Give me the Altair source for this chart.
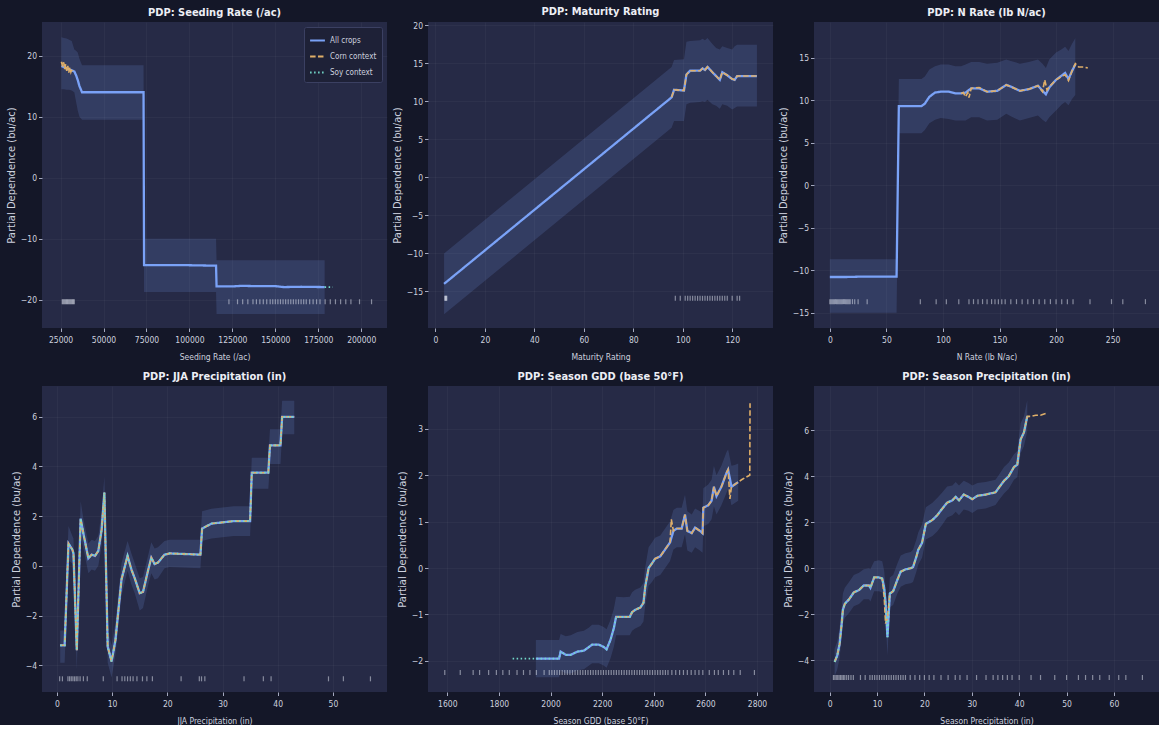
import altair as alt
import pandas as pd

# ---------------------------------------------------------------- palette
BG = "#141728"
PANEL = "#262a46"
BLUE = "#7aa2f7"
ORANGE = "#e0af68"
TEAL = "#73daca"
TEXT = "#cdd1df"
TITLE = "#eceef5"
FONT = "DejaVu Sans Condensed, Liberation Sans, DejaVu Sans"

SERIES = ["All crops", "Corn context", "Soy context"]
SERIES_COLORS = [BLUE, ORANGE, TEAL]
SERIES_DASHES = [[1, 0], [5.5, 2.4], [1.5, 2.5]]

Y_TITLE = "Partial Dependence (bu/ac)"

# ---------------------------------------------------------------- Seeding rate
SEED_X = [25500, 27000, 28500, 30000, 31500, 33000, 34000, 35000, 36000, 37500,
          55000, 73300, 73600, 95000, 115500, 115800, 125000, 130000, 140000,
          150000, 155000, 165000, 178700]
SEED_PD = [18.3, 18.1, 17.9, 17.7, 17.6, 17.4, 16.8, 16.0, 15.0, 14.0,
           14.0, 14.0, -14.3, -14.3, -14.4, -17.8, -17.8, -17.7, -17.75,
           -17.75, -17.9, -17.85, -17.9]
SEED_HI = [23.0, 22.9, 22.8, 22.6, 22.4, 21.0, 20.8, 20.5, 19.5, 18.4,
           18.4, 18.4, -10.0, -10.0, -10.0, -13.5, -13.5, -13.5, -13.5,
           -13.5, -13.5, -13.5, -13.5]
SEED_LO = [14.5, 14.5, 14.4, 14.4, 14.3, 14.0, 12.5, 11.0, 10.0, 9.5,
           9.5, 9.5, -18.7, -18.7, -18.7, -22.3, -22.3, -22.3, -22.3,
           -22.3, -22.3, -22.3, -22.3]
SEED_CORN_X = [25500, 26200, 26800, 27400, 28000, 28600, 29200, 29800, 30400,
               31000, 31600, 32300]
SEED_CORN_Y = [19.0, 18.2, 18.9, 17.8, 18.6, 17.5, 18.3, 17.2, 18.1, 17.3,
               17.8, 17.5]
SEED_SOY_X = [178700, 181000, 183500]
SEED_SOY_Y = [-17.9, -17.9, -17.9]
SEED_RUG = [26000, 26500, 27000, 27500, 28000, 28500, 29000, 29500, 30000,
            30500, 31000, 31500, 32000, 32500, 33000, 123000, 128000, 131000,
            134000, 137000, 139000, 141000, 143000, 145000, 147000, 148500,
            150000, 151500, 153000, 154500, 156000, 157500, 159000, 160500,
            162000, 163500, 165000, 166500, 168000, 170000, 172000, 174000,
            176000, 179000, 182000, 185000, 188000, 191000, 194000, 199000,
            206000]

# ---------------------------------------------------------------- Maturity rating
MAT_X = [3.5, 95.5, 96.5, 100.5, 101.5, 103, 107, 108, 109, 110, 112, 113.5,
         115, 116, 118, 120, 121, 122, 130]
MAT_PD = [-14.0, 10.5, 11.5, 11.4, 13.5, 14.0, 14.0, 14.3, 14.1, 14.5, 13.8,
          13.3, 12.8, 13.8, 13.4, 12.9, 12.8, 13.3, 13.3]
MAT_HI = [-10.0, 14.5, 15.4, 15.5, 17.8, 17.9, 18.0, 18.2, 18.0, 18.3, 17.5,
          17.0, 16.8, 17.2, 17.0, 16.8, 17.2, 17.4, 17.4]
MAT_LO = [-18.0, 6.5, 7.4, 7.4, 9.6, 9.8, 9.9, 10.0, 9.9, 10.2, 9.6, 9.4,
          9.0, 9.6, 9.4, 8.9, 9.1, 9.3, 9.3]
MAT_CORN_X = [95.5, 96.5, 100.5, 101.5, 103, 107, 108, 109, 110, 112, 113.5,
              115, 116, 118, 120, 121, 122, 130]
MAT_CORN_Y = [10.5, 11.5, 11.4, 13.5, 14.0, 14.0, 14.3, 14.1, 14.5, 13.8,
              13.3, 12.8, 13.8, 13.4, 12.9, 12.8, 13.3, 13.3]
MAT_SOY_X = []
MAT_SOY_Y = []
MAT_RUG = [3.8, 4.0, 4.2, 4.4, 4.6, 97, 99, 101, 102, 103, 104, 105, 106, 107,
           108, 109, 110, 111, 112, 113, 114, 115, 116, 117, 118, 120, 122,
           123]

# ---------------------------------------------------------------- N rate
NR_X = [0, 15, 30, 59, 61, 81, 84, 88, 93, 98, 105, 111, 116, 120, 125, 132,
        139, 148, 156, 160, 168, 176, 184, 188, 191, 194, 200, 205, 208, 211,
        214, 217]
NR_PD = [-10.8, -10.8, -10.75, -10.75, 9.3, 9.3, 9.6, 10.4, 10.9, 11.0, 11.0,
         10.8, 10.8, 10.9, 11.4, 11.4, 11.0, 11.1, 11.8, 11.6, 11.1, 11.3,
         11.7, 11.1, 10.7, 11.5, 12.4, 12.9, 13.2, 12.5, 13.4, 14.2]
NR_HI = [-8.7, -8.7, -8.7, -8.7, 12.5, 12.5, 12.8, 13.6, 14.0, 14.2, 14.2,
         14.0, 14.0, 14.2, 14.5, 14.5, 14.3, 14.4, 14.8, 14.6, 14.3, 14.5,
         14.8, 14.3, 13.8, 14.8, 15.6, 16.0, 16.3, 15.8, 16.6, 17.3]
NR_LO = [-15.0, -15.0, -15.0, -15.0, 6.1, 6.1, 6.5, 7.3, 7.7, 7.9, 7.8, 7.6,
         7.6, 7.6, 8.0, 8.0, 7.6, 7.7, 8.4, 8.1, 7.6, 7.9, 8.2, 7.7, 7.4, 8.0,
         8.8, 9.5, 9.8, 9.4, 10.1, 10.6]
NR_CORN_X = [116, 118, 120, 122, 123, 125, 132, 139, 148, 156, 160, 168, 176,
             184, 188, 190, 192, 194, 200, 205, 208, 211, 214, 217, 220, 224,
             228]
NR_CORN_Y = [10.8, 10.9, 10.4, 10.9, 10.3, 11.4, 11.5, 11.0, 11.1, 11.8, 11.6,
             11.1, 11.3, 11.7, 11.0, 12.4, 11.2, 11.6, 12.4, 12.8, 13.0, 12.3,
             13.4, 14.3, 13.9, 13.9, 13.8]
NR_SOY_X = []
NR_SOY_Y = []
NR_RUG = [0, 1, 2, 3, 4, 5, 6, 7, 8, 9, 10, 11, 12, 13, 14, 15, 16, 17, 18,
          20, 22, 25, 33, 80, 94, 103, 114, 123, 127, 131, 135, 139, 143, 146,
          149, 152, 155, 160, 165, 170, 175, 180, 185, 190, 195, 200, 205,
          210, 215, 230, 249, 259, 279]

# ---------------------------------------------------------------- JJA precipitation
JJA_X = [0.6, 1.4, 2.1, 2.8, 3.0, 3.6, 4.3, 4.8, 5.7, 6.3, 6.9, 7.5, 8.1, 8.6,
         9.2, 9.9, 10.6, 11.7, 12.8, 13.5, 14.1, 15.0, 15.6, 16.5, 17.1, 17.7,
         18.3, 19.5, 20.4, 26.0, 26.3, 28.0, 30.0, 32.0, 35.0, 35.3, 38.3,
         38.6, 40.5, 40.8, 43.0]
JJA_PD = [-3.2, -3.2, 0.9, 0.65, 0.5, -3.4, 1.9, 1.3, 0.3, 0.45, 0.4, 0.6,
          1.45, 2.95, -3.25, -3.85, -3.0, -0.55, 0.4, -0.15, -0.5, -1.1,
          -1.05, -0.2, 0.33, 0.07, 0.13, 0.45, 0.5, 0.45, 1.5, 1.7, 1.75, 1.8,
          1.8, 3.75, 3.75, 4.85, 4.85, 6.0, 6.0]
JJA_HI = [-2.6, -2.6, 1.6, 1.2, 1.1, -2.6, 2.6, 1.9, 0.9, 1.05, 1.0, 1.2, 2.2,
          3.6, -2.6, -3.2, -2.3, 0.1, 1.0, 0.5, 0.1, -0.5, -0.45, 0.4, 0.95,
          0.7, 0.75, 1.0, 1.05, 1.05, 2.2, 2.3, 2.35, 2.4, 2.4, 4.35, 4.35,
          5.5, 5.5, 6.65, 6.65]
JJA_LO = [-3.9, -3.9, 0.2, 0.1, -0.1, -4.2, 1.2, 0.7, -0.3, -0.15, -0.2, 0.0,
          0.8, 2.3, -3.9, -4.5, -3.6, -1.2, -0.2, -0.75, -1.1, -1.8, -1.7,
          -0.8, -0.3, -0.55, -0.5, -0.1, -0.05, -0.1, 1.0, 1.1, 1.15, 1.2, 1.2,
          3.1, 3.1, 4.1, 4.1, 5.3, 5.3]
JJA_RUG = [0.5, 1.0, 2.0, 2.3, 2.6, 2.9, 3.2, 3.5, 3.8, 4.2, 4.8, 5.5, 8.4,
           10.9, 11.8, 12.3, 12.8, 13.3, 13.8, 14.5, 15.5, 16.3, 17.3, 22.5,
           25.8, 26.2, 26.8, 33.9, 37.4, 38.8, 49.2, 51.9, 56.8]

# ---------------------------------------------------------------- Season GDD
GDD_X = [1943, 2033, 2039, 2059, 2078, 2104, 2129, 2149, 2161, 2187, 2206,
         2217, 2232, 2245, 2254, 2283, 2307, 2316, 2328, 2348, 2360, 2367,
         2380, 2393, 2405, 2425, 2444, 2463, 2476, 2489, 2508, 2521, 2530,
         2547, 2560, 2579, 2589, 2592, 2611, 2624, 2633, 2643, 2662, 2682,
         2688, 2701, 2714, 2727]
GDD_PD = [-1.95, -1.95, -1.8, -1.87, -1.87, -1.8, -1.78, -1.7, -1.65, -1.65,
          -1.7, -1.75, -1.55, -1.3, -1.05, -1.05, -1.05, -0.95, -0.9, -0.85,
          -0.75, -0.4, 0.0, 0.1, 0.2, 0.25, 0.4, 0.55, 0.8, 0.85, 0.85, 1.15,
          0.8, 0.75, 0.87, 0.8, 0.75, 1.3, 1.35, 1.45, 1.75, 1.55, 1.75, 2.05,
          2.12, 1.75, 1.8, 1.85]
GDD_HI = [-1.55, -1.55, -1.42, -1.47, -1.45, -1.38, -1.35, -1.28, -1.22,
          -1.22, -1.27, -1.32, -1.12, -0.88, -0.62, -0.63, -0.62, -0.52,
          -0.47, -0.42, -0.32, 0.02, 0.45, 0.55, 0.65, 0.7, 0.85, 1.0, 1.25,
          1.3, 1.3, 1.58, 1.22, 1.15, 1.28, 1.22, 1.17, 1.72, 1.8, 1.9, 2.2,
          2.0, 2.2, 2.5, 2.55, 2.2, 2.22, 2.25]
GDD_LO = [-2.35, -2.35, -2.2, -2.27, -2.27, -2.2, -2.18, -2.1, -2.05, -2.05,
          -2.1, -2.15, -1.95, -1.7, -1.45, -1.45, -1.45, -1.35, -1.3, -1.25,
          -1.15, -0.8, -0.38, -0.3, -0.2, -0.15, 0.0, 0.15, 0.4, 0.45, 0.45,
          0.72, 0.38, 0.33, 0.45, 0.38, 0.33, 0.9, 0.95, 1.05, 1.33, 1.15,
          1.35, 1.62, 1.7, 1.35, 1.4, 1.45]
GDD_CORN_X = [2254, 2283, 2307, 2316, 2328, 2348, 2360, 2367, 2380, 2393,
              2405, 2425, 2444, 2463, 2468, 2476, 2489, 2508, 2521, 2530,
              2547, 2560, 2579, 2589, 2592, 2611, 2624, 2633, 2643, 2662,
              2682, 2688, 2695, 2701, 2714, 2727, 2740, 2755, 2772, 2773]
GDD_CORN_Y = [-1.05, -1.05, -1.05, -0.95, -0.9, -0.85, -0.75, -0.4, 0.0, 0.1,
              0.2, 0.25, 0.4, 0.55, 1.05, 0.8, 0.85, 0.85, 1.15, 0.8, 0.75,
              0.87, 0.8, 0.75, 1.3, 1.35, 1.45, 1.75, 1.55, 1.75, 2.05, 2.12,
              1.49, 1.75, 1.8, 1.85, 1.9, 1.95, 2.0, 3.55]
GDD_SOY_X = [1853, 1880, 1910, 1943, 2033, 2039, 2059, 2078, 2104, 2129,
             2149, 2161, 2187, 2206, 2217, 2232, 2245, 2254, 2283, 2307, 2316,
             2328, 2348, 2360, 2367, 2380, 2393, 2405]
GDD_SOY_Y = [-1.95, -1.95, -1.95, -1.95, -1.95, -1.8, -1.87, -1.87, -1.8,
             -1.78, -1.7, -1.65, -1.65, -1.7, -1.75, -1.55, -1.3, -1.05,
             -1.05, -1.05, -0.95, -0.9, -0.85, -0.75, -0.4, 0.0, 0.1, 0.2]
GDD_RUG = [1590, 1650, 1700, 1725, 1760, 1790, 1815, 1840, 1870, 1895, 1920,
           1945, 1975, 1995, 2005, 2015, 2025, 2035, 2045, 2055, 2065, 2075,
           2085, 2095, 2105, 2115, 2125, 2135, 2145, 2155, 2165, 2175, 2185,
           2195, 2205, 2215, 2225, 2235, 2245, 2255, 2265, 2275, 2285, 2295,
           2305, 2315, 2325, 2335, 2345, 2355, 2365, 2375, 2385, 2395, 2405,
           2415, 2425, 2435, 2445, 2455, 2470, 2485, 2500, 2515, 2530, 2545,
           2560, 2575, 2590, 2615, 2635, 2650, 2670, 2690, 2710, 2735, 2790]

# ---------------------------------------------------------------- Season precipitation
SP_X = [1.05, 1.6, 2.1, 2.5, 2.8, 3.2, 4.1, 5.1, 6.2, 7.2, 8.3, 8.6, 9.4,
        10.4, 11.1, 11.5, 11.8, 12.2, 12.7, 13.4, 14.3, 15.0, 16.0, 17.1,
        17.6, 18.3, 18.7, 19.5, 20.3, 21.7, 22.7, 23.8, 24.8, 25.9, 26.6,
        27.3, 28.3, 29.3, 30.1, 31.2, 32.9, 35.0, 35.7, 36.8, 37.8, 38.9,
        39.6, 40.3, 41.0, 41.7]
SP_PD = [-4.07, -3.8, -3.3, -2.5, -1.8, -1.55, -1.35, -1.05, -0.95, -0.75,
         -0.75, -0.85, -0.4, -0.4, -0.45, -0.85, -1.5, -3.0, -1.1, -1.0, -0.5,
         -0.15, -0.05, 0.0, 0.05, 0.5, 0.8, 1.1, 1.93, 2.1, 2.3, 2.6, 2.85,
         2.95, 3.1, 2.95, 3.2, 3.1, 3.0, 3.15, 3.2, 3.3, 3.5, 3.8, 4.0, 4.4,
         4.5, 5.6, 5.9, 6.6]
SP_HI = [-3.5, -3.2, -2.6, -1.8, -1.1, -0.85, -0.6, -0.3, -0.2, -0.05, 0.0,
         -0.05, 0.3, 0.35, 0.3, -0.1, -0.8, -2.1, -0.4, -0.3, 0.2, 0.55, 0.65,
         0.7, 0.8, 1.25, 1.55, 1.9, 2.65, 2.85, 3.05, 3.3, 3.55, 3.6, 3.75,
         3.6, 3.8, 3.7, 3.6, 3.7, 3.75, 3.85, 4.05, 4.4, 4.6, 4.95, 5.1, 6.3,
         6.6, 7.3]
SP_LO = [-4.7, -4.4, -3.9, -3.1, -2.4, -2.15, -1.95, -1.65, -1.55, -1.35,
         -1.35, -1.45, -1.0, -1.0, -1.05, -1.45, -2.15, -3.8, -1.7, -1.6,
         -1.1, -0.8, -0.7, -0.65, -0.6, -0.15, 0.15, 0.45, 1.25, 1.4, 1.6,
         1.9, 2.2, 2.3, 2.45, 2.3, 2.55, 2.5, 2.4, 2.55, 2.6, 2.75, 2.95,
         3.25, 3.45, 3.85, 3.95, 5.0, 5.3, 5.95]
SP_CORN_X = SP_X + [42.4, 43.5, 44.5, 46.0]
SP_CORN_Y = [-4.07, -3.8, -3.3, -2.5, -1.8, -1.55, -1.35, -1.05, -0.95, -0.75,
             -0.75, -0.85, -0.4, -0.4, -0.45, -1.2, -2.4, -2.2, -1.1, -1.0,
             -0.5, -0.15, -0.05, 0.0, 0.05, 0.5, 0.8, 1.1, 1.93, 2.1, 2.3, 2.6,
             2.85, 2.95, 3.1, 2.95, 3.2, 3.1, 3.0, 3.15, 3.2, 3.3, 3.5, 3.8,
             4.0, 4.4, 4.5, 5.6, 5.9, 6.6, 6.6, 6.65, 6.65, 6.75]
SP_RUG = [0.8, 1.1, 1.4, 1.7, 2.0, 2.3, 2.6, 2.9, 3.2, 3.6, 4.0, 4.5, 5.0,
          6.5, 7.5, 8.5, 9.0, 9.5, 10.0, 10.5, 11.0, 11.5, 12.0, 12.5, 13.0,
          13.5, 14.0, 14.5, 15.0, 15.5, 16.0, 17.0, 18.0, 19.0, 20.0, 21.0,
          22.0, 23.5, 25.0, 26.5, 27.5, 29.0, 31.0, 33.0, 34.5, 35.5, 36.5,
          37.5, 38.5, 40.0, 42.5, 44.5, 47.5, 50.0, 52.5, 54.0, 55.5, 57.0,
          59.0, 61.0, 62.5, 66.0]

PANEL_W = 345
PANEL_H = 306


def series_frame(xs, ys, name):
    return pd.DataFrame({"x": xs, "y": ys, "series": name})


def pdp_panel(title, x_title, x, pdv, lo, hi, corn_x, corn_y, soy_x, soy_y,
              rug, rug_level, x_domain, y_domain, x_ticks, y_ticks,
              show_legend=False):
    xs = alt.Scale(domain=x_domain, nice=False, zero=False)
    ys = alt.Scale(domain=y_domain, nice=False, zero=False)
    x_axis = alt.Axis(values=x_ticks, format="d", title=x_title)
    y_axis = alt.Axis(values=y_ticks, format="d", title=Y_TITLE)

    if show_legend:
        legend = alt.Legend(orient="top-right", title=None, offset=5,
                            padding=5, fillColor="#1e2137",
                            strokeColor="#3b4062", cornerRadius=2,
                            labelColor=TEXT, labelFontSize=8,
                            symbolType="stroke",
                            symbolSize=220, symbolStrokeWidth=2,
                            rowPadding=3, labelOffset=4)
    else:
        legend = None
    color = alt.Color("series:N", legend=legend,
                      scale=alt.Scale(domain=SERIES, range=SERIES_COLORS))
    dash = alt.StrokeDash("series:N", legend=legend,
                          scale=alt.Scale(domain=SERIES, range=SERIES_DASHES))

    band = alt.Chart(pd.DataFrame({"x": x, "lo": lo, "hi": hi})).mark_area(
        color=BLUE, opacity=0.16
    ).encode(
        x=alt.X("x:Q", scale=xs, axis=x_axis),
        y=alt.Y("lo:Q", scale=ys, axis=y_axis),
        y2="hi:Q",
    )

    rug_marks = alt.Chart(pd.DataFrame({"x": rug, "y": [rug_level] * len(rug)})).mark_tick(
        orient="vertical", size=5, thickness=1.2, color="#e8ebf5", opacity=0.5
    ).encode(x=alt.X("x:Q", scale=xs), y=alt.Y("y:Q", scale=ys))

    layers = [band, rug_marks]
    for xs_, ys_, name, w in [(x, pdv, "All crops", 2.3),
                              (corn_x, corn_y, "Corn context", 1.6),
                              (soy_x, soy_y, "Soy context", 1.7)]:
        if not xs_:
            continue
        layers.append(
            alt.Chart(series_frame(xs_, ys_, name)).mark_line(strokeWidth=w).encode(
                x=alt.X("x:Q", scale=xs),
                y=alt.Y("y:Q", scale=ys),
                color=color,
                strokeDash=dash,
            )
        )

    return alt.layer(*layers).properties(
        width=PANEL_W, height=PANEL_H,
        title=alt.TitleParams(title, frame="group", anchor="middle"),
    )


p1 = pdp_panel("PDP: Seeding Rate (/ac)", "Seeding Rate (/ac)",
               SEED_X, SEED_PD, SEED_LO, SEED_HI, SEED_CORN_X, SEED_CORN_Y,
               SEED_SOY_X, SEED_SOY_Y, SEED_RUG, -20.3,
               [14200, 215000], [-24.6, 25.5],
               [25000, 50000, 75000, 100000, 125000, 150000, 175000, 200000],
               [-20, -10, 0, 10, 20], show_legend=True)
p2 = pdp_panel("PDP: Maturity Rating", "Maturity Rating",
               MAT_X, MAT_PD, MAT_LO, MAT_HI, MAT_CORN_X, MAT_CORN_Y,
               MAT_SOY_X, MAT_SOY_Y, MAT_RUG, -15.9,
               [-3.0, 136.5], [-19.8, 20.4],
               [0, 20, 40, 60, 80, 100, 120],
               [-15, -10, -5, 0, 5, 10, 15, 20])
p3 = pdp_panel("PDP: N Rate (lb N/ac)", "N Rate (lb N/ac)",
               NR_X, NR_PD, NR_LO, NR_HI, NR_CORN_X, NR_CORN_Y,
               NR_SOY_X, NR_SOY_Y, NR_RUG, -13.7,
               [-14.0, 291.0], [-16.8, 19.2],
               [0, 50, 100, 150, 200, 250],
               [-15, -10, -5, 0, 5, 10, 15])
p4 = pdp_panel("PDP: JJA Precipitation (in)", "JJA Precipitation (in)",
               JJA_X, JJA_PD, JJA_LO, JJA_HI, JJA_X, JJA_PD, JJA_X, JJA_PD,
               JJA_RUG, -4.55,
               [-2.7, 59.8], [-5.08, 7.24],
               [0, 10, 20, 30, 40, 50],
               [-4, -2, 0, 2, 4, 6])
p5 = pdp_panel("PDP: Season GDD (base 50°F)", "Season GDD (base 50°F)",
               GDD_X, GDD_PD, GDD_LO, GDD_HI, GDD_CORN_X, GDD_CORN_Y,
               GDD_SOY_X, GDD_SOY_Y, GDD_RUG, -2.25,
               [1525, 2862], [-2.67, 3.92],
               [1600, 1800, 2000, 2200, 2400, 2600, 2800],
               [-2, -1, 0, 1, 2, 3])
p6 = pdp_panel("PDP: Season Precipitation (in)", "Season Precipitation (in)",
               SP_X, SP_PD, SP_LO, SP_HI, SP_CORN_X, SP_CORN_Y, SP_X, SP_PD,
               SP_RUG, -4.75,
               [-3.3, 69.5], [-5.38, 7.92],
               [0, 10, 20, 30, 40, 50, 60],
               [-4, -2, 0, 2, 4, 6])

indep = dict(color="independent", strokeDash="independent")
chart = alt.concat(
    p1, p2, p3, p4, p5, p6,
    columns=3, spacing={"row": 58, "column": 41}, bounds="flush",
).resolve_scale(**indep).resolve_legend(**indep).properties(
    background=BG,
    padding={"left": 6, "top": 6, "right": 0, "bottom": 0},
).configure(
    font=FONT,
).configure_view(
    fill=PANEL, stroke=None,
).configure_axis(
    domain=False,
    grid=True,
    gridColor="#ffffff",
    gridOpacity=0.035,
    tickColor="#a4a9c0",
    tickSize=3.5,
    labelColor=TEXT,
    labelFontSize=8.5,
    titleColor=TEXT,
    titleFontWeight="normal",
).configure_axisX(
    labelPadding=4, titleFontSize=8.5, titlePadding=8,
).configure_axisY(
    labelPadding=2, titleFontSize=10, titleFont="DejaVu Sans", titlePadding=4,
).configure_title(
    fontSize=11, fontWeight="bold", color=TITLE, offset=4,
)

chart.save("out.html", embed_options={"renderer": "svg", "actions": False})
